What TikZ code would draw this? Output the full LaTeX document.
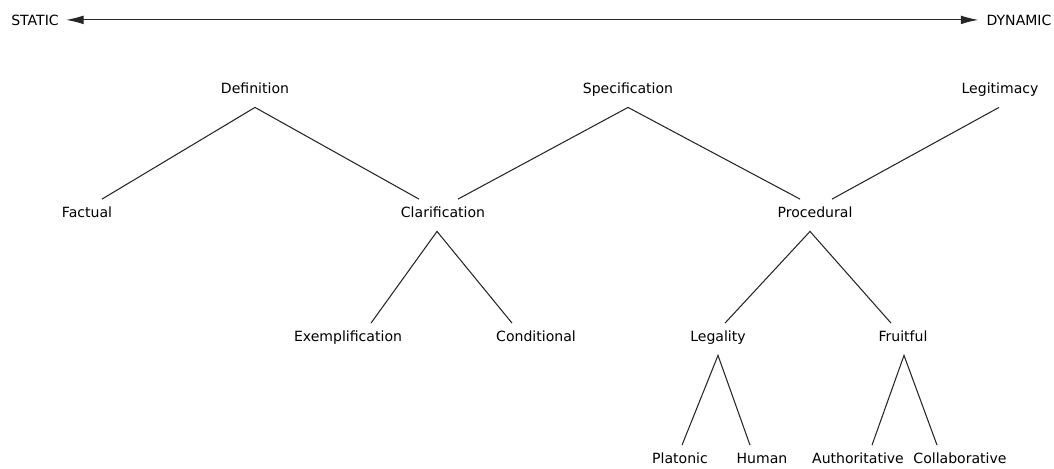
\documentclass[tikz,border=0pt]{standalone}
\usepackage{fontspec}
\setmainfont{DejaVu Sans}
\usetikzlibrary{calc,arrows.meta}

\begin{document}
\begin{tikzpicture}[x=0.02cm,y=-0.02cm,font=\fontsize{8}{9.6}\selectfont,
  lab/.style={anchor=base,inner xsep=0pt,inner ysep=4pt,text height=6pt,text depth=4pt},
  branch/.style={line width=0.6pt,black!85}]
\useasboundingbox (0,0) rectangle (1054,468);
% scale
\node[anchor=base,inner xsep=4pt] (static) at (35,25) {STATIC};
\node[anchor=base,inner xsep=4.5pt] (dynamic) at (1019,25) {DYNAMIC};
\draw[branch,{Latex[length=10pt,width=5pt]}-{Latex[length=10pt,width=5pt]}] (static.east) -- (dynamic.west);
% top level
\node[lab] (def) at (255,93) {Definition};
\node[lab] (spec) at (628,93) {Specification};
\node[lab] (legit) at (1000,93) {Legitimacy};
% second level
\node[lab] (fac) at (87,217) {Factual};
\node[lab] (clar) at (443,217) {Clarification};
\node[lab] (proc) at (815,217) {Procedural};
% third level
\node[lab] (exem) at (348,341) {Exemplification};
\node[lab] (cond) at (536,341) {Conditional};
\node[lab] (legal) at (718,341) {Legality};
\node[lab] (fruit) at (903,341) {Fruitful};
% bottom
\node[lab] (plat) at (680,463) {Platonic};
\node[lab] (hum) at (762,463) {Human};
\node[lab] (auth) at (858,463) {Authoritative};
\node[lab] (coll) at (960,463) {Collaborative};
% branches
\draw[branch] ($(fac.north)+(15,0)$) -- (def.south) -- ($(clar.north)+(-24,0)$);
\draw[branch] ($(clar.north)+(15,0)$) -- (spec.south) -- ($(proc.north)+(-15,0)$);
\draw[branch] ($(proc.north)+(17,0)$) -- ($(legit.south)+(-1,0)$);
\draw[branch] ($(exem.north)+(23,0)$) -- ($(clar.south)+(-6,0)$) -- ($(cond.north)+(-24,0)$);
\draw[branch] ($(legal.north)+(7,0)$) -- ($(proc.south)+(-5,0)$) -- ($(fruit.north)+(-12,0)$);
\draw[branch] ($(plat.north)+(2,0)$) -- (legal.south) -- ($(hum.north)+(-12,0)$);
\draw[branch] ($(auth.north)+(14,0)$) -- ($(fruit.south)+(1,0)$) -- ($(coll.north)+(-23,0)$);
\end{tikzpicture}
\end{document}
